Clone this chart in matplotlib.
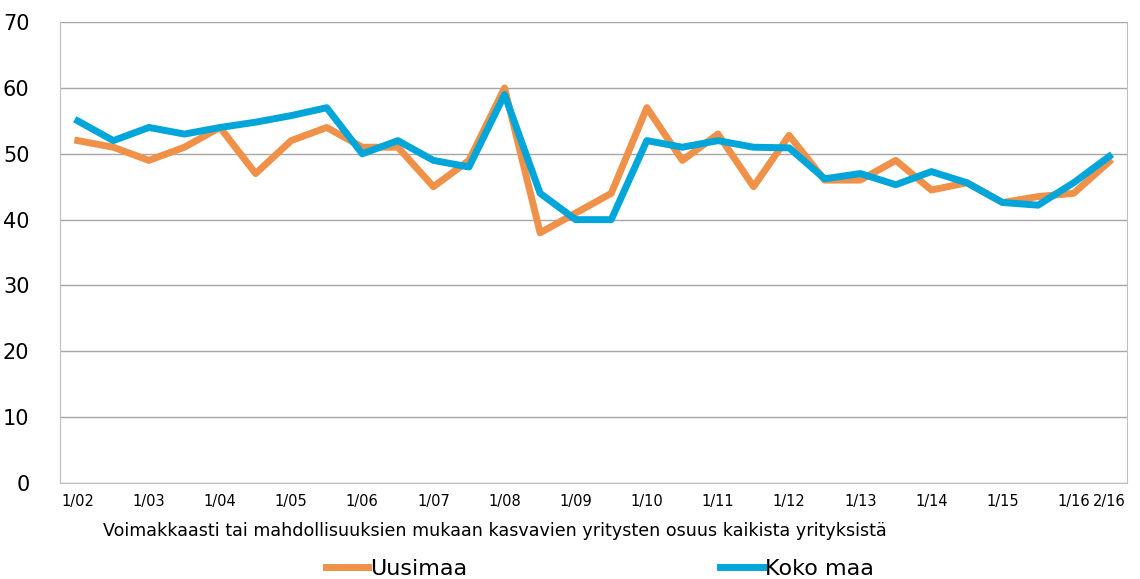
import matplotlib
matplotlib.use("Agg")
import matplotlib.pyplot as plt

# ------------------------------------------------------------
# Data (half-year periods 1/02 ... 2/16)

periods = [f"{h}/{y:02d}" for y in range(2, 17) for h in (1, 2)]
uusimaa = [52, 51, 49, 51, 54, 47, 52, 54, 51, 51,
           45, 49, 60, 38, 41, 44, 57, 49, 53, 45,
           52.8, 46, 46, 49, 44.5, 45.6, 42.6, 43.5, 44, 48.8]
koko_maa = [55, 52, 54, 53, 54, 54.8, 55.8, 57, 50, 52,
            49, 48, 59, 44, 40, 40, 52, 51, 52, 51,
            50.9, 46.2, 47, 45.3, 47.3, 45.6, 42.6, 42.2, 45.6, 49.6]
tick_labels = [p if p.startswith("1/") else "" for p in periods]
tick_labels[-1] = "2/16"

x_label = "Voimakkaasti tai mahdollisuuksien mukaan kasvavien yritysten osuus kaikista yrityksistä"

# ------------------------------------------------------------
# Plot

fig = plt.figure(figsize=(11.4, 5.79), dpi=100)
ax = fig.add_axes([0.0526, 0.1658, 0.936, 0.796])

x = list(range(len(periods)))
ax.plot(x, uusimaa, color="#F0914A", lw=5, label="Uusimaa")
ax.plot(x, koko_maa, color="#00A6DA", lw=5, label="Koko maa")

ax.set_xlim(-0.5, 29.5)
ax.set_ylim(0, 70)
ax.set_yticks(range(0, 71, 10))
ax.tick_params(axis="y", labelsize=15, length=0, pad=22)
ax.set_xticks(x)
ax.set_xticklabels(tick_labels, fontsize=10.5)
ax.tick_params(axis="x", length=0, pad=8)
ax.grid(axis="y", color="#A6A6A6", lw=1)
ax.set_axisbelow(True)
for s in ax.spines.values():
    s.set_color("#BFBFBF")
ax.spines["top"].set_visible(False)

ax.set_xlabel(x_label, fontsize=12.6, labelpad=4)
ax.xaxis.set_label_coords(0.408, -0.085)

fig.legend(loc="center", bbox_to_anchor=(0.526, 0.018), ncol=2, frameon=False,
           fontsize=16, handlelength=1.9, handletextpad=0.1, columnspacing=11.4)

plt.savefig("out.png", dpi=100)
